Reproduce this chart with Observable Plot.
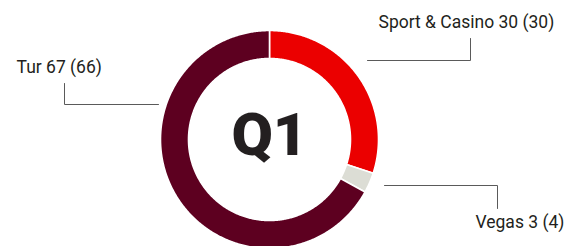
<!DOCTYPE html>
<html>
<head>
<meta charset="utf-8">
<script src="https://cdn.jsdelivr.net/npm/d3@7"></script>
<script src="https://cdn.jsdelivr.net/npm/@observablehq/plot@0.6"></script>
<style>
  html, body { margin: 0; padding: 0; background: #fff; }
  #chart svg { display: block; }
</style>
</head>
<body>
<div id="chart"></div>
<script>
// ---- data ----
const segments = ["Sport & Casino", "Vegas", "Tur"];
const values = [30, 3, 67];
const previous = [30, 4, 66];
const centerLabel = "Q1";

// ---- layout / style ----
const W = 566, H = 246;
const cx = 269, cy = 139, R = 109, r0 = 81;
const colors = ["#eb0000", "#dcddd5", "#5d0020"];
const labelPos = [
  {x: 378, y: 22, path: [[367, 60], [470, 60], [470, 38]]},
  {x: 475, y: 221.5, path: [[384, 185], [497, 185], [497, 208]]},
  {x: 16, y: 67, path: [[64, 83], [64, 104], [158, 104]]}
];

const total = d3.sum(values);
const polys = [];
let acc = 0;
values.forEach((v, i) => {
  const a0 = acc / total * 2 * Math.PI;
  acc += v;
  const a1 = acc / total * 2 * Math.PI;
  const n = Math.max(4, Math.ceil((a1 - a0) / 0.01));
  const pts = [];
  for (let k = 0; k <= n; k++) {
    const a = a0 + (a1 - a0) * k / n;
    pts.push({seg: segments[i], x: cx + R * Math.sin(a), y: cy - R * Math.cos(a)});
  }
  for (let k = n; k >= 0; k--) {
    const a = a0 + (a1 - a0) * k / n;
    pts.push({seg: segments[i], x: cx + r0 * Math.sin(a), y: cy - r0 * Math.cos(a)});
  }
  polys.push(...pts);
});

const leaders = [];
labelPos.forEach((l, i) => l.path.forEach(([x, y]) => leaders.push({seg: segments[i], x, y})));
const labels = segments.map((s, i) => ({
  text: `${s} ${values[i]} (${previous[i]})`, x: labelPos[i].x, y: labelPos[i].y
}));

const chart = Plot.plot({
  width: W, height: H,
  margin: 0,
  x: {domain: [0, W], range: [0, W], axis: null},
  y: {domain: [0, H], range: [0, H], axis: null},
  color: {domain: segments, range: colors},
  style: {fontFamily: "Roboto, sans-serif", background: "#fff"},
  marks: [
    Plot.line(polys, {x: "x", y: "y", z: "seg", fill: "seg", stroke: "white", strokeWidth: 1.6, curve: "linear-closed"}),
    Plot.line(leaders, {x: "x", y: "y", z: "seg", stroke: "#5a5a5a", strokeWidth: 1}),
    Plot.text(labels, {x: "x", y: "y", text: "text", textAnchor: "start", lineAnchor: "middle", fontSize: 17.5, fill: "#231f20"}),
    Plot.text([centerLabel], {x: cx, y: cy - 4, text: d => d, fontSize: 60, fontWeight: 900, fill: "#231f20", lineAnchor: "middle", textAnchor: "middle", fontFamily: "Roboto", letterSpacing: "-4px"})
  ]
});
document.getElementById("chart").appendChild(chart);
</script>
</body>
</html>
